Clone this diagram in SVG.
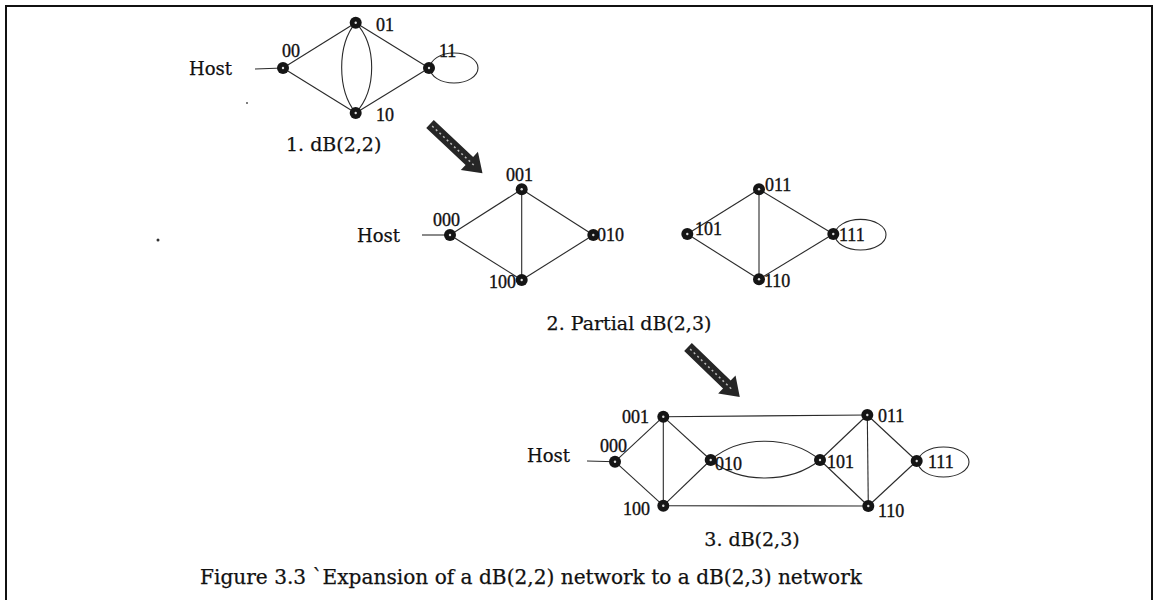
<svg xmlns="http://www.w3.org/2000/svg" width="1156" height="600" viewBox="0 0 1156 600">
<style>
.e{fill:none;stroke:#2a2a2a;stroke-width:1.1}
.n{fill:#151515}
.d{fill:#ddd}
.lb{font-family:"Liberation Serif","Times New Roman",serif;font-size:18px;fill:#111;stroke:#111;stroke-width:0.35}
.h{font-family:"DejaVu Serif","Liberation Serif",serif;font-size:18px;fill:#111;stroke:#111;stroke-width:0.25}
.cap{font-family:"DejaVu Serif","Liberation Serif",serif;font-size:19px;fill:#111;stroke:#111;stroke-width:0.25}
.ar{fill:#262626}
.arl{fill:none;stroke:#bbb;stroke-width:1.5;stroke-dasharray:2 3}
</style>
<defs>
<g id="nd"><circle r="6" class="n"/><circle r="1.2" class="d"/></g>
<g id="bigarrow"><polygon class="ar" points="0,-5.5 54,-5.5 54,-12.5 72,0 54,12.5 54,5.5 0,5.5"/><line class="arl" x1="3" y1="0" x2="60" y2="0"/></g>
</defs>
<path d="M6,602 V6 H1152 V602" fill="none" stroke="#111" stroke-width="2"/>
<circle cx="158" cy="240" r="1.5" fill="#333"/>
<circle cx="247" cy="103" r="1" fill="#555"/>
<g id="connectors">
<line class="e" x1="255" y1="69" x2="283" y2="68"/>
<line class="e" x1="283" y1="68" x2="355.7" y2="22.7"/>
<line class="e" x1="283" y1="68" x2="355.7" y2="113"/>
<line class="e" x1="355.7" y1="22.7" x2="429" y2="68"/>
<line class="e" x1="355.7" y1="113" x2="429" y2="68"/>
<path class="e" d="M355.7,22.7 C337,45 337,90 355.7,113"/>
<path class="e" d="M355.7,22.7 C377,45 377,90 355.7,113"/>
<ellipse class="e" cx="454" cy="68" rx="24" ry="15"/>
<line class="e" x1="422" y1="235" x2="450" y2="235"/>
<line class="e" x1="450" y1="235" x2="521.7" y2="189.3"/>
<line class="e" x1="450" y1="235" x2="521.7" y2="280"/>
<line class="e" x1="521.7" y1="189.3" x2="593.3" y2="235"/>
<line class="e" x1="521.7" y1="280" x2="593.3" y2="235"/>
<line class="e" x1="521.7" y1="189.3" x2="521.7" y2="280"/>
<line class="e" x1="687.3" y1="234" x2="759" y2="189.3"/>
<line class="e" x1="687.3" y1="234" x2="759" y2="279.3"/>
<line class="e" x1="759" y1="189.3" x2="833.3" y2="234"/>
<line class="e" x1="759" y1="279.3" x2="833.3" y2="234"/>
<line class="e" x1="759" y1="189.3" x2="759" y2="279.3"/>
<ellipse class="e" cx="860.5" cy="234.7" rx="25.5" ry="15.3"/>
<line class="e" x1="587" y1="461" x2="615" y2="461.7"/>
<line class="e" x1="615" y1="461.7" x2="663.3" y2="416.7"/>
<line class="e" x1="615" y1="461.7" x2="663.3" y2="505.7"/>
<line class="e" x1="663.3" y1="416.7" x2="663.3" y2="505.7"/>
<line class="e" x1="663.3" y1="416.7" x2="710.7" y2="460"/>
<line class="e" x1="663.3" y1="505.7" x2="710.7" y2="460"/>
<line class="e" x1="663.3" y1="416.7" x2="867.3" y2="415"/>
<line class="e" x1="663.3" y1="505.7" x2="868.3" y2="506"/>
<path class="e" d="M710.7,460 C740,435 790,435 820,460"/>
<path class="e" d="M710.7,460 C740,484 790,484 820,460"/>
<line class="e" x1="820" y1="460" x2="867.3" y2="415"/>
<line class="e" x1="820" y1="460" x2="868.3" y2="506"/>
<line class="e" x1="867.3" y1="415" x2="868.3" y2="506"/>
<line class="e" x1="867.3" y1="415" x2="916.7" y2="461"/>
<line class="e" x1="868.3" y1="506" x2="916.7" y2="461"/>
<ellipse class="e" cx="943.5" cy="462" rx="25.5" ry="15"/>
</g>
<g id="arrows">
<use href="#bigarrow" transform="translate(430,124) rotate(43.2)"/>
<use href="#bigarrow" transform="translate(688,347) rotate(44)"/>
</g>
<g id="g1-host"><text class="h" x="232" y="75" text-anchor="end">Host</text></g>
<g id="g1-00"><use href="#nd" x="283" y="68"/><text class="lb" x="282" y="57">00</text></g>
<g id="g1-01"><use href="#nd" x="355.7" y="22.7"/><text class="lb" x="376" y="31">01</text></g>
<g id="g1-10"><use href="#nd" x="355.7" y="113"/><text class="lb" x="376" y="121">10</text></g>
<g id="g1-11"><use href="#nd" x="429" y="68"/><text class="lb" x="439" y="57">11</text></g>
<g id="cap1"><text class="cap" x="286" y="151">1. dB(2,2)</text></g>
<g id="g2-host"><text class="h" x="400" y="242" text-anchor="end">Host</text></g>
<g id="g2-000"><use href="#nd" x="450" y="235"/><text class="lb" x="433" y="226">000</text></g>
<g id="g2-001"><use href="#nd" x="521.7" y="189.3"/><text class="lb" x="506" y="181">001</text></g>
<g id="g2-010"><use href="#nd" x="593.3" y="235"/><text class="lb" x="597" y="241">010</text></g>
<g id="g2-100"><use href="#nd" x="521.7" y="280"/><text class="lb" x="489" y="288">100</text></g>
<g id="g2-101"><use href="#nd" x="687.3" y="234"/><text class="lb" x="695" y="235">101</text></g>
<g id="g2-011"><use href="#nd" x="759" y="189.3"/><text class="lb" x="765" y="191">011</text></g>
<g id="g2-110"><use href="#nd" x="759" y="279.3"/><text class="lb" x="764" y="287">110</text></g>
<g id="g2-111"><use href="#nd" x="833.3" y="234"/><text class="lb" x="839" y="241">111</text></g>
<g id="cap2"><text class="cap" x="629" y="330" text-anchor="middle">2. Partial dB(2,3)</text></g>
<g id="g3-host"><text class="h" x="570" y="462" text-anchor="end">Host</text></g>
<g id="g3-000"><use href="#nd" x="615" y="461.7"/><text class="lb" x="600" y="452">000</text></g>
<g id="g3-001"><use href="#nd" x="663.3" y="416.7"/><text class="lb" x="622" y="423">001</text></g>
<g id="g3-100"><use href="#nd" x="663.3" y="505.7"/><text class="lb" x="623" y="515">100</text></g>
<g id="g3-010"><use href="#nd" x="710.7" y="460"/><text class="lb" x="715" y="470">010</text></g>
<g id="g3-101"><use href="#nd" x="820" y="460"/><text class="lb" x="827" y="468">101</text></g>
<g id="g3-011"><use href="#nd" x="867.3" y="415"/><text class="lb" x="878" y="422">011</text></g>
<g id="g3-110"><use href="#nd" x="868.3" y="506"/><text class="lb" x="878" y="517">110</text></g>
<g id="g3-111"><use href="#nd" x="916.7" y="461"/><text class="lb" x="928" y="468">111</text></g>
<g id="cap3"><text class="cap" x="752" y="546" text-anchor="middle">3. dB(2,3)</text></g>
<g id="figcap"><text class="cap" x="200" y="584" style="font-size:20px" textLength="662" lengthAdjust="spacingAndGlyphs">Figure 3.3 `Expansion of a dB(2,2) network to a dB(2,3) network</text></g>
</svg>
